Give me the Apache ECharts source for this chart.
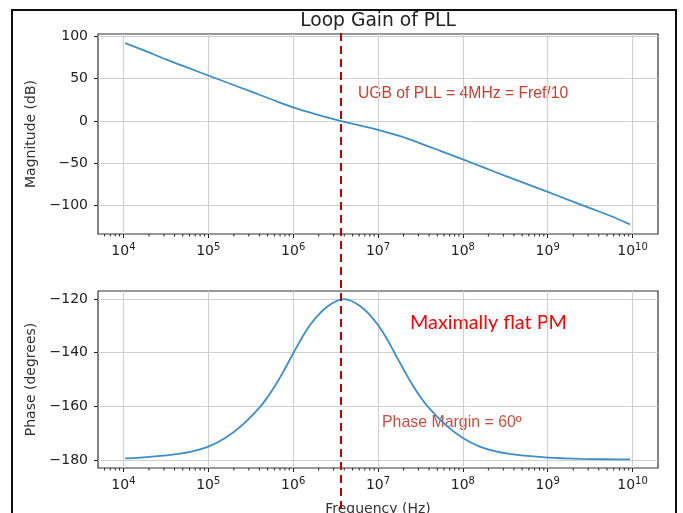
<!DOCTYPE html>
<html>
<head>
<meta charset="utf-8">
<script src="https://cdn.jsdelivr.net/npm/echarts@6/dist/echarts.min.js"></script>
<style>
  html, body { margin: 0; padding: 0; background: #fff; }
  #chart { width: 683px; height: 513px; }
</style>
</head>
<body>
<div id="chart"></div>
<script>
// 幅值曲线 (Hz, dB)
const magFreq = [1.047e4, 1.78e4, 3.16e4, 5.62e4, 1e5, 1.78e5, 3.16e5, 5.62e5, 1e6, 1.78e6, 3.16e6, 5.62e6, 1e7,
  1.78e7, 3.16e7, 5.62e7, 1e8, 1.78e8, 3.16e8, 5.62e8, 1e9, 1.78e9, 3.16e9, 5.62e9, 9.33e9]
const magDb = [92, 83, 72.8, 63.2, 53.7, 44.2, 34.8, 25.3, 16, 8.3, 1.5, -4.5, -10.5,
  -17.8, -26.5, -36, -45.5, -55.3, -65, -74.5, -84, -93.6, -103.2, -112.8, -122.3]

// 相位曲线 (Hz, degrees)
const phaseFreq = [1.047e4, 1.58e4, 2.51e4, 3.98e4, 6.31e4, 1e5, 1.58e5, 2.51e5, 3.98e5, 5.01e5, 6.31e5, 7.94e5, 1e6,
  1.26e6, 1.58e6, 2e6, 2.51e6, 3.16e6, 3.98e6, 5.01e6, 6.31e6, 7.94e6, 1e7, 1.26e7, 1.58e7, 2e7, 2.51e7, 3.16e7, 3.98e7,
  6.31e7, 1e8, 1.58e8, 2.51e8, 3.98e8, 6.31e8, 1e9, 1.58e9, 2.51e9, 3.98e9, 6.31e9, 9.33e9]
const phaseDeg = [-179.4, -179.1, -178.6, -177.9, -176.9, -175, -171.8, -167, -160.6, -156.5, -151.7, -146.2, -140.3,
  -134.6, -129.7, -125.8, -122.9, -120.9, -120, -120.9, -122.9, -125.8, -129.7, -134.6, -140.3, -146.2, -151.7, -156.5, -160.6,
  -167, -171.8, -175, -176.9, -177.9, -178.6, -179.1, -179.4, -179.6, -179.7, -179.8, -179.8]

// 刻度
const freqTicks = [1e4, 1e5, 1e6, 1e7, 1e8, 1e9, 1e10]
const minorFreqTicks = [
  6e3, 7e3, 8e3, 9e3,
  2e4, 3e4, 4e4, 5e4, 6e4, 7e4, 8e4, 9e4,
  2e5, 3e5, 4e5, 5e5, 6e5, 7e5, 8e5, 9e5,
  2e6, 3e6, 4e6, 5e6, 6e6, 7e6, 8e6, 9e6,
  2e7, 3e7, 4e7, 5e7, 6e7, 7e7, 8e7, 9e7,
  2e8, 3e8, 4e8, 5e8, 6e8, 7e8, 8e8, 9e8,
  2e9, 3e9, 4e9, 5e9, 6e9, 7e9, 8e9, 9e9
]
const magTicks = [-100, -50, 0, 50, 100]
const phaseTicks = [-180, -160, -140, -120]
const ugbFreq = 3.6e6

const xMin = 5012   // 10^3.7
const xMax = 19953e6 // 10^10.3

const FONT = 'DejaVu Sans'
const BLUE = '#3d8fc8'

function zip(a, b) { return a.map((v, i) => [v, b[i]]) }

function xLabel(v) {
  const e = Math.log10(v)
  if (Math.abs(e - Math.round(e)) > 1e-6) return ''
  return '{b|10}{s|' + Math.round(e) + '}'
}
function yLabel(v) { return String(v).replace('-', '\u2212') }

function makeXAxis(gridIndex, showLabel, name) {
  return {
    type: 'log', logBase: 10, gridIndex, min: xMin, max: xMax,
    name: name || '', nameLocation: 'middle', nameGap: 34,
    nameTextStyle: { fontFamily: FONT, fontSize: 14, color: '#333' },
    axisLine: { show: false, onZero: false },
    axisTick: { show: showLabel, customValues: freqTicks, length: 4, lineStyle: { color: '#222' } },
    axisLabel: {
      show: showLabel, customValues: freqTicks, formatter: xLabel, margin: 8,
      rich: {
        b: { fontFamily: FONT, fontSize: 14, color: '#222' },
        s: { fontFamily: FONT, fontSize: 10, color: '#222', padding: [0, 0, 9, 0] }
      }
    },
    splitLine: { show: showLabel, lineStyle: { color: '#d0d0d0', width: 1.2 } }
  }
}

function makeYAxis(gridIndex, min, max, ticks, name) {
  return {
    type: 'value', gridIndex, min, max,
    name, nameLocation: 'middle', nameGap: 58,
    nameTextStyle: { fontFamily: FONT, fontSize: 14, color: '#333' },
    axisLine: { show: false, onZero: false },
    axisTick: { customValues: ticks, length: 4, lineStyle: { color: '#222' } },
    axisLabel: { customValues: ticks, formatter: yLabel, margin: 10, fontFamily: FONT, fontSize: 14, color: '#222' },
    splitLine: { lineStyle: { color: '#d0d0d0', width: 1.2 } }
  }
}

// 次刻度 (matplotlib 风格的对数次刻度)
function minorTickSeries(idx) {
  return {
    type: 'custom', xAxisIndex: idx, yAxisIndex: idx, silent: true, clip: false,
    data: minorFreqTicks.map(v => [v]),
    renderItem(params, api) {
      const cs = params.coordSys
      const x = api.coord([api.value(0), 0])[0]
      const y = cs.y + cs.height
      return { type: 'line', shape: { x1: x, y1: y, x2: x, y2: y + 2.5 }, style: { stroke: '#222', lineWidth: 1 } }
    }
  }
}

const chart = echarts.init(document.getElementById('chart'), null, { renderer: 'canvas' })

const gridBase = { left: 98, width: 560, outerBoundsMode: 'none', containLabel: false }

const option = {
  animation: false,
  backgroundColor: '#fff',
  title: {
    text: 'Loop Gain of PLL', left: 373, top: 7, textAlign: 'center',
    textStyle: { fontFamily: FONT, fontSize: 18.7, fontWeight: 'normal', color: '#222' }
  },
  grid: [
    Object.assign({ top: 34, height: 200, show: true, borderColor: '#333', borderWidth: 1.2, backgroundColor: 'transparent' }, gridBase),
    Object.assign({ top: 291, height: 177, show: true, borderColor: '#333', borderWidth: 1.2, backgroundColor: 'transparent' }, gridBase),
    Object.assign({ top: 32, height: 490 }, gridBase)
  ],
  xAxis: [
    makeXAxis(0, true),
    makeXAxis(1, true, 'Frequency (Hz)'),
    Object.assign(makeXAxis(2, false), { show: false })
  ],
  yAxis: [
    makeYAxis(0, -133.75, 102.75, magTicks, 'Magnitude (dB)'),
    makeYAxis(1, -183, -117, phaseTicks, 'Phase (degrees)'),
    { type: 'value', gridIndex: 2, min: 0, max: 1, show: false }
  ],
  series: [
    {
      name: 'Magnitude', type: 'line', xAxisIndex: 0, yAxisIndex: 0,
      data: zip(magFreq, magDb), smooth: 0.3, showSymbol: false,
      lineStyle: { color: BLUE, width: 1.8 }
    },
    {
      name: 'Phase', type: 'line', xAxisIndex: 1, yAxisIndex: 1,
      data: zip(phaseFreq, phaseDeg), smooth: 0.4, showSymbol: false,
      lineStyle: { color: BLUE, width: 1.8 }
    },
    minorTickSeries(0),
    minorTickSeries(1),
    {
      // 单位增益带宽处的红色虚线, 贯穿两个子图
      type: 'line', xAxisIndex: 2, yAxisIndex: 2, data: [], z: 5,
      markLine: {
        silent: true, symbol: 'none', label: { show: false },
        lineStyle: { color: '#c00000', width: 2, type: [8, 5] },
        data: [{ xAxis: ugbFreq }]
      }
    }
  ],
  graphic: [
    {
      type: 'rect', shape: { x: 12, y: 10, width: 664, height: 520 },
      style: { fill: 'none', stroke: '#111', lineWidth: 2 }, silent: true
    },
    {
      type: 'text', x: 358, y: 94,
      style: { text: 'UGB of PLL = 4MHz = Fref/10', fill: '#c8402c', font: '15.7px "Liberation Sans"', textVerticalAlign: 'middle' }
    },
    {
      type: 'text', x: 410, y: 323,
      style: { text: 'Maximally flat PM', fill: '#ff0000', font: '19.8px Lato', textVerticalAlign: 'middle' }
    },
    {
      type: 'text', x: 382, y: 423,
      style: { text: 'Phase Margin = 60\u00ba', fill: '#c9503f', font: '15.9px "Liberation Sans"', textVerticalAlign: 'middle' }
    }
  ]
}

chart.setOption(option)
</script>
</body>
</html>
